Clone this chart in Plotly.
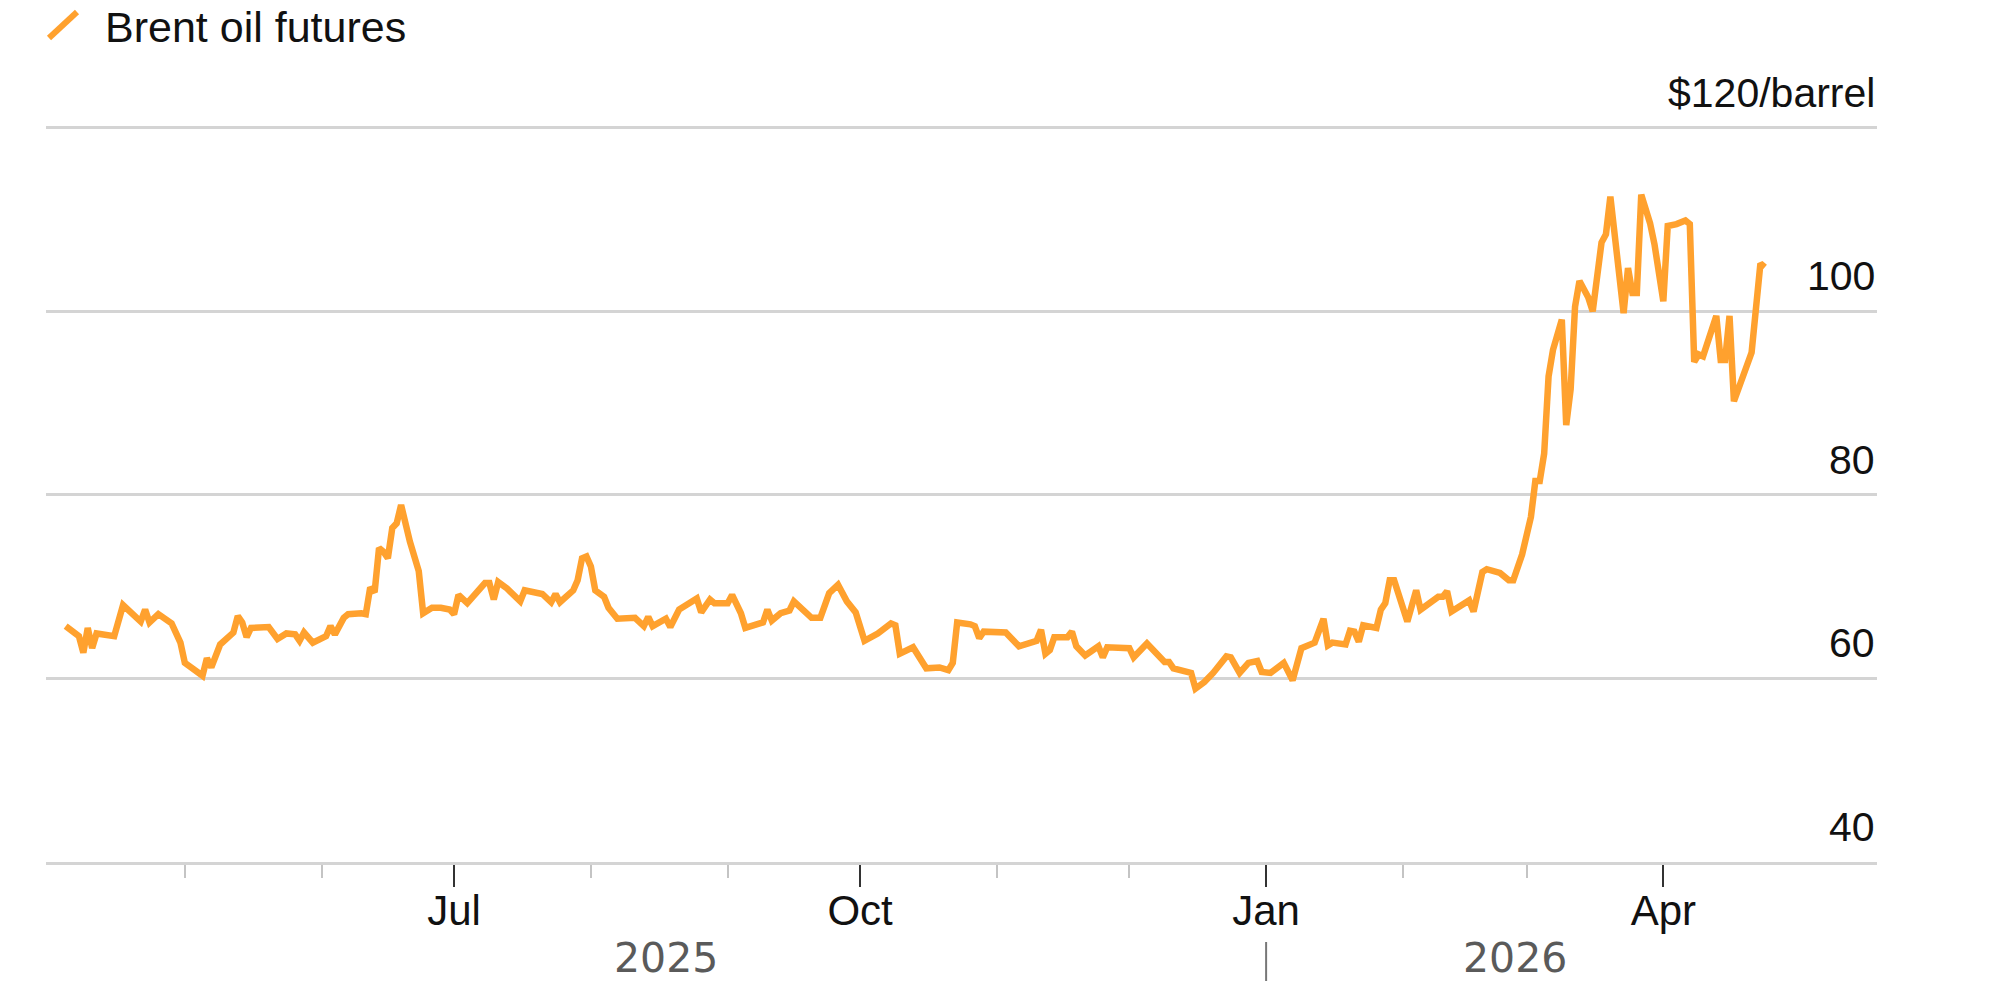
import pandas as pd
import plotly.graph_objects as go

# ---- data ----
dates = [
    "2025-04-04", "2025-04-07", "2025-04-08", "2025-04-09", "2025-04-10", "2025-04-11",
    "2025-04-15", "2025-04-17", "2025-04-21", "2025-04-22", "2025-04-23", "2025-04-25",
    "2025-04-28", "2025-04-30", "2025-05-01", "2025-05-03", "2025-05-05", "2025-05-06",
    "2025-05-07", "2025-05-09", "2025-05-10", "2025-05-12", "2025-05-13", "2025-05-14",
    "2025-05-15", "2025-05-16", "2025-05-20", "2025-05-22", "2025-05-24", "2025-05-26",
    "2025-05-27", "2025-05-28", "2025-05-30", "2025-06-02", "2025-06-03", "2025-06-04",
    "2025-06-06", "2025-06-07", "2025-06-10", "2025-06-11", "2025-06-12", "2025-06-13",
    "2025-06-14", "2025-06-15", "2025-06-16", "2025-06-17", "2025-06-18", "2025-06-19",
    "2025-06-21", "2025-06-23", "2025-06-24", "2025-06-26", "2025-06-28", "2025-06-30",
    "2025-07-01", "2025-07-02", "2025-07-04", "2025-07-07", "2025-07-08", "2025-07-09",
    "2025-07-10", "2025-07-11", "2025-07-13", "2025-07-16", "2025-07-17", "2025-07-21",
    "2025-07-23", "2025-07-24", "2025-07-25", "2025-07-28", "2025-07-29", "2025-07-30",
    "2025-07-31", "2025-08-01", "2025-08-02", "2025-08-04", "2025-08-05", "2025-08-07",
    "2025-08-11", "2025-08-13", "2025-08-14", "2025-08-15", "2025-08-18", "2025-08-19",
    "2025-08-21", "2025-08-22", "2025-08-25", "2025-08-26", "2025-08-28", "2025-08-29",
    "2025-09-01", "2025-09-02", "2025-09-04", "2025-09-05", "2025-09-09", "2025-09-10",
    "2025-09-11", "2025-09-13", "2025-09-15", "2025-09-16", "2025-09-19", "2025-09-20",
    "2025-09-22", "2025-09-24", "2025-09-26", "2025-09-28", "2025-09-30", "2025-10-02",
    "2025-10-05", "2025-10-08", "2025-10-09", "2025-10-10", "2025-10-13", "2025-10-16",
    "2025-10-19", "2025-10-21", "2025-10-22", "2025-10-23", "2025-10-26", "2025-10-27",
    "2025-10-28", "2025-10-29", "2025-11-03", "2025-11-06", "2025-11-10", "2025-11-11",
    "2025-11-12", "2025-11-13", "2025-11-14", "2025-11-17", "2025-11-18", "2025-11-19",
    "2025-11-21", "2025-11-24", "2025-11-25", "2025-11-26", "2025-12-01", "2025-12-02",
    "2025-12-05", "2025-12-09", "2025-12-10", "2025-12-11", "2025-12-15", "2025-12-16",
    "2025-12-18", "2025-12-20", "2025-12-23", "2025-12-24", "2025-12-26", "2025-12-28",
    "2025-12-30", "2025-12-31", "2026-01-02", "2026-01-05", "2026-01-07", "2026-01-09",
    "2026-01-12", "2026-01-14", "2026-01-15", "2026-01-16", "2026-01-19", "2026-01-20",
    "2026-01-21", "2026-01-22", "2026-01-23", "2026-01-26", "2026-01-27", "2026-01-28",
    "2026-01-29", "2026-01-30", "2026-02-02", "2026-02-04", "2026-02-05", "2026-02-09",
    "2026-02-10", "2026-02-11", "2026-02-12", "2026-02-16", "2026-02-17", "2026-02-19",
    "2026-02-20", "2026-02-22", "2026-02-23", "2026-02-25", "2026-02-26", "2026-02-28",
    "2026-03-01", "2026-03-02", "2026-03-03", "2026-03-04", "2026-03-05", "2026-03-06",
    "2026-03-07", "2026-03-09", "2026-03-10", "2026-03-11", "2026-03-12", "2026-03-13",
    "2026-03-15", "2026-03-16", "2026-03-18", "2026-03-19", "2026-03-20", "2026-03-21",
    "2026-03-23", "2026-03-24", "2026-03-25", "2026-03-26", "2026-03-27", "2026-03-29",
    "2026-03-30", "2026-04-01", "2026-04-02", "2026-04-04", "2026-04-06", "2026-04-07",
    "2026-04-08", "2026-04-09", "2026-04-10", "2026-04-13", "2026-04-14", "2026-04-15",
    "2026-04-16", "2026-04-17", "2026-04-21", "2026-04-23", "2026-04-24",
]

brent = [
    65.7, 64.6, 62.8, 65.5, 63.3, 64.9,
    64.6, 68.0, 66.2, 67.5, 66.1, 67.0,
    66.0, 63.9, 61.7, 60.9, 60.3, 62.2,
    61.2, 63.7, 64.2, 65.0, 66.8, 66.1,
    64.5, 65.5, 65.6, 64.3, 64.9, 64.8,
    64.1, 65.0, 63.9, 64.6, 65.7, 64.8,
    66.6, 67.0, 67.1, 67.0, 69.9, 69.4,
    74.2, 73.8, 73.1, 76.4, 76.9, 78.9,
    74.9, 71.7, 67.1, 67.7, 67.7, 67.5,
    67.0, 69.1, 68.2, 69.7, 70.4, 70.4,
    68.6, 70.5, 69.8, 68.4, 69.6, 69.2,
    68.3, 69.2, 68.3, 69.6, 70.7, 73.1,
    73.3, 72.2, 69.6, 68.9, 67.7, 66.5,
    66.6, 65.7, 66.7, 65.7, 66.5, 65.6,
    67.5, 67.8, 68.7, 67.2, 68.6, 68.2,
    68.2, 69.1, 67.1, 65.5, 66.1, 67.5,
    66.3, 67.1, 67.4, 68.4, 66.9, 66.6,
    66.6, 69.3, 70.2, 68.4, 67.2, 64.1,
    64.9, 66.0, 65.8, 62.7, 63.4, 61.1,
    61.2, 60.9, 61.7, 66.1, 65.9, 65.7,
    64.4, 65.1, 65.0, 63.5, 64.1, 65.3,
    62.7, 63.1, 64.5, 64.5, 65.1, 63.5,
    62.5, 63.5, 62.3, 63.4, 63.3, 62.3,
    63.8, 61.8, 61.8, 61.1, 60.6, 58.9,
    59.6, 60.6, 62.4, 62.3, 60.6, 61.7,
    61.9, 60.7, 60.6, 61.7, 59.8, 63.3,
    63.9, 66.5, 63.6, 63.9, 63.7, 65.2,
    65.1, 64.0, 65.8, 65.5, 67.5, 68.2,
    70.7, 70.7, 66.2, 69.6, 67.5, 68.9,
    68.9, 69.5, 67.3, 68.5, 67.3, 71.6,
    71.9, 71.7, 71.5, 70.7, 70.7, 73.5,
    75.8, 77.6, 81.5, 81.5, 84.5, 92.9,
    95.8, 99.1, 87.6, 91.5, 100.5, 103.3,
    101.5, 100.0, 107.5, 108.4, 112.5, 107.8,
    99.8, 104.7, 102.0, 102.0, 112.7, 109.6,
    107.3, 101.1, 109.3, 109.5, 109.9, 109.5,
    94.5, 95.3, 95.1, 99.5, 94.7, 94.7,
    99.5, 90.2, 95.5, 105.2, 104.8,
]

series_name = "Brent oil futures"
y_ticks = [40, 60, 80, 100, 120]
y_tick_labels = ["40", "60", "80", "100", "$120/barrel"]
major_ticks = ["2025-07-01", "2025-10-01", "2026-01-01", "2026-04-01"]
major_tick_labels = ["Jul", "Oct", "Jan", "Apr"]
minor_ticks = ["2025-05-01", "2025-06-01", "2025-08-01", "2025-09-01",
               "2025-11-01", "2025-12-01", "2026-02-01", "2026-03-01"]
years = ["2025", "2026"]
x_range = ["2025-03-30 13:00", "2026-05-19 10:00"]
y_range = [40, 120.3]

ORANGE = "#FFA12E"
GRID = "#d4d4d4"
FONT = "Liberation Sans, Arial, sans-serif"

fig = go.Figure()
fig.add_trace(go.Scatter(
    x=dates, y=brent, mode="lines", name=series_name, showlegend=False,
    line=dict(color=ORANGE, width=6.5), hoverinfo="x+y",
))

# page has an 8px body margin, so the figure is 8px smaller and shifted
OFF = 8
W, H = 2000 - OFF, 1003 - OFF
ml, mr, mt, mb = 38, 123, 117, 141
plot_w = W - ml - mr
plot_h = H - mt - mb
bottom_page = OFF + H - mb  # page y of the plot bottom


def py_to_paper(py):
    return (bottom_page - py) / plot_h


def px_to_paper(px):
    return (px - OFF - ml) / plot_w


fig.update_layout(
    width=W, height=H,
    margin=dict(l=ml, r=mr, t=mt, b=mb, autoexpand=False),
    paper_bgcolor="white", plot_bgcolor="white",
    font=dict(family=FONT, color="#111111"),
    xaxis=dict(
        type="date", range=x_range,
        tickmode="array", tickvals=major_ticks, ticktext=major_tick_labels,
        ticks="outside", ticklen=22, tickwidth=2, tickcolor="#333333",
        tickfont=dict(size=42, color="#111111", family=FONT),
        ticklabelstandoff=-12,
        showgrid=False, zeroline=False,
        showline=True, linecolor=GRID, linewidth=3,
        minor=dict(tickmode="array", tickvals=minor_ticks, ticks="outside",
                   ticklen=13, tickwidth=2, tickcolor="#c4c4c4", showgrid=False),
        fixedrange=True,
    ),
    yaxis=dict(
        range=y_range, tickvals=y_ticks, showticklabels=False,
        showgrid=True, gridcolor=GRID, gridwidth=3,
        zeroline=False, showline=False, fixedrange=True,
    ),
)

# y tick labels sitting above gridlines at the right edge
for v, t in zip(y_ticks, y_tick_labels):
    fig.add_annotation(
        x=1, xref="paper", y=v, yref="y", text=t, showarrow=False,
        xanchor="right", yanchor="bottom", yshift=10,
        font=dict(size=41, color="#111111", family=FONT),
    )

# year labels centred under each year's data span, with a separator at Jan 1
d0 = pd.Timestamp(dates[0])
d1 = pd.Timestamp(dates[-1])
jan = pd.Timestamp("2026-01-01")
year_centers = [d0 + (jan - d0) / 2, jan + (d1 - jan) / 2]
for yr, c in zip(years, year_centers):
    fig.add_annotation(
        x=c, xref="x", y=py_to_paper(958), yref="paper", text=yr,
        showarrow=False, xanchor="center", yanchor="middle",
        font=dict(size=41, color="#5a5a5a", family="DejaVu Sans, sans-serif"),
    )
fig.add_shape(type="line", xref="x", yref="paper", x0=jan, x1=jan,
              y0=py_to_paper(942), y1=py_to_paper(981),
              line=dict(color="#777777", width=2))

# legend (custom)
fig.add_shape(type="line", xref="paper", yref="paper",
              x0=px_to_paper(49), y0=py_to_paper(38),
              x1=px_to_paper(77), y1=py_to_paper(12),
              line=dict(color=ORANGE, width=6))
fig.add_annotation(
    x=px_to_paper(104), xref="paper", y=py_to_paper(27), yref="paper",
    text=series_name, showarrow=False, xanchor="left", yanchor="middle",
    borderpad=0,
    font=dict(size=43, color="#111111", family=FONT),
)

fig.write_html("out.html")
